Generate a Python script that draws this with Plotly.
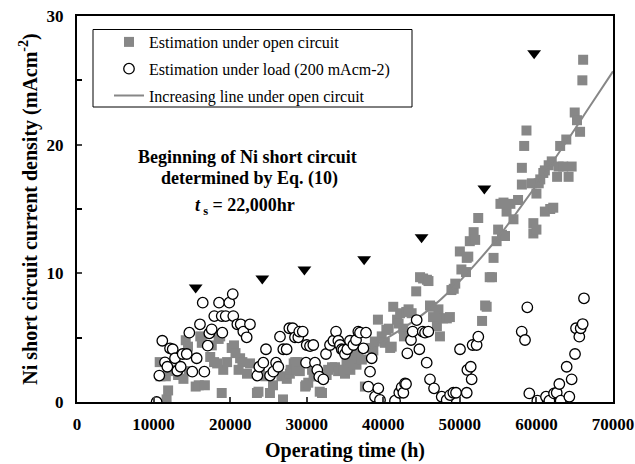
import plotly.graph_objects as go

# Estimation under open circuit (gray squares)
open_x = [10800, 10900, 11600, 11700, 11900, 12400, 12800, 13200, 13900, 14200, 14500, 14600,
          15500, 15900, 16100, 16300, 16700, 17400, 17600, 17900, 18300, 18500, 18700, 18900,
          19100, 19600, 20200, 20500, 20700, 21100, 21300, 21600, 22200, 22600, 23500, 23700,
          23900, 24600, 25200, 25600, 26700, 26900, 27400, 27800, 27900, 28300, 28500, 28700,
          28800, 29100, 29800, 29900, 30200, 30700, 30900, 31300, 31700, 32000, 32600, 32800,
          33300, 33700, 34100, 34600, 34800, 35000, 35200, 35700, 36100, 36300, 36500, 36700,
          37200, 37600, 38300, 38700, 38900, 39300, 39800, 40200, 40400, 40700, 40900, 41100,
          41300, 41800, 42000, 42200, 42600, 42700, 43000, 43300, 43700, 44300, 44800, 45200,
          45700, 45900, 46100, 46300, 46500, 47000, 47200, 47400, 47800, 48300, 48700, 48900,
          49200, 49400, 50000, 50200, 50800, 50900, 51100, 51300, 51800, 52000, 52400, 52900,
          53300, 53500, 53900, 54200, 54400, 54800, 55000, 55300, 55500, 55700, 55900, 56100,
          56600, 57000, 57600, 58100, 58100, 58400, 58700, 59400, 59600, 59600, 60000, 60000,
          60300, 60500, 60900, 61100, 61100, 61600, 61800, 62000, 62200, 62700, 62900, 63100,
          63500, 63900, 64200, 64600, 65000, 65300, 65700, 66000, 66100]
open_y = [3.1, 2.0, 2.0, 0.2, 0.9, 2.4, 2.5, 2.1, 1.8, 4.8, 4.3, 2.4,
          1.2, 1.3, 5.1, 4.6, 1.3, 3.5, 4.4, 3.1, 3.0, 4.9, 5.1, 0.7,
          2.5, 3.1, 4.2, 4.4, 3.8, 2.5, 3.4, 3.1, 2.2, 3.0, 0.7, 0.8,
          2.5, 2.0, 0.7, 1.3, 2.0, 0.2, 1.8, 2.2, 2.5, 3.0, 3.1, 2.5,
          3.1, 2.4, 1.2, 1.3, 1.5, 2.5, 2.0, 2.0, 0.8, 0.7, 2.1, 2.5,
          2.7, 2.7, 2.4, 2.5, 2.5, 2.2, 3.1, 2.5, 3.1, 3.7, 2.9, 3.4,
          3.3, 1.2, 4.2, 4.0, 4.7, 6.4, 5.1, 4.6, 5.6, 5.7, 4.2, 4.3,
          7.4, 6.4, 6.1, 6.9, 5.7, 5.1, 7.0, 7.2, 6.9, 8.6, 9.7, 9.6,
          9.5, 9.4, 7.5, 7.4, 6.6, 5.9, 7.2, 5.1, 6.5, 6.5, 6.6, 8.7,
          8.8, 9.2, 11.7, 10.3, 10.1, 11.2, 11.3, 12.5, 13.2, 12.6, 14.3, 6.3,
          7.5, 7.4, 9.7, 9.7, 11.2, 12.5, 13.4, 15.4, 13.0, 15.5, 12.9, 14.8,
          15.4, 14.2, 15.7, 16.9, 18.2, 19.9, 21.1, 17.0, 13.1, 13.9, 16.2, 13.4,
          17.0, 17.3, 17.8, 18.0, 14.8, 18.4, 15.0, 18.7, 15.1, 17.5, 18.3, 19.9,
          18.3, 20.4, 17.5, 18.3, 22.5, 21.9, 21.0, 25.0, 26.6]

# Estimation under load (open circles)
load_x = [10400, 10750, 11140, 11490, 11800, 12150, 12500, 12800, 13100, 13540, 13800, 14330,
          14670, 15060, 15630, 16060, 16420, 16630, 17070, 17280, 17590, 17930, 18550, 18900,
          18980, 19420, 19890, 20340, 20410, 20940, 21380, 21720, 22160, 22590, 23550, 23810,
          24330, 24680, 25210, 25640, 26000, 26290, 26510, 26940, 27380, 27730, 28170, 28470,
          28900, 29030, 29480, 29910, 30000, 30430, 30860, 31080, 31380, 31640, 32170, 32520,
          33040, 33480, 33830, 34130, 34350, 34570, 34780, 35000, 35300, 35650, 36090, 36440,
          36740, 36960, 37400, 37740, 38050, 38270, 38490, 38920, 39350, 39570, 41530, 42090,
          42400, 42620, 42840, 42970, 43140, 43620, 43840, 44360, 44710, 45150, 45450, 45670,
          45880, 46100, 46630, 47630, 48280, 48720, 49150, 49500, 50020, 50900, 50980, 51420,
          51540, 51670, 52190, 52410, 58080, 58510, 58810, 59070, 60120, 61250, 61690, 62300,
          62650, 62990, 63170, 63950, 64300, 64600, 65040, 65170, 65600, 65780, 66040, 66210]
load_y = [0.0, 2.05, 4.76, 3.08, 2.74, 4.17, 4.1, 3.4, 2.43, 2.74, 3.73, 3.73,
          5.39, 2.36, 3.4, 6.04, 7.72, 2.36, 4.38, 5.34, 5.65, 6.68, 7.72, 6.68,
          5.39, 6.68, 7.72, 8.39, 6.68, 6.04, 6.04, 5.47, 5.03, 6.04, 2.05, 2.74,
          3.06, 4.1, 2.05, 2.36, 3.06, 2.74, 5.08, 4.1, 4.1, 5.73, 5.73, 5.03,
          5.03, 5.47, 5.47, 3.06, 4.43, 4.35, 4.43, 3.06, 2.49, 1.97, 1.76, 3.73,
          4.43, 4.76, 5.47, 4.76, 4.43, 4.1, 4.04, 3.73, 4.1, 4.76, 4.43, 4.82,
          5.47, 5.39, 4.17, 5.39, 1.19, 2.36, 3.4, 0.41, 1.06, 0.16, 0.1, 0.72,
          1.14, 0.72, 1.45, 1.4, 3.78, 4.82, 5.47, 6.37, 4.1, 5.47, 5.39, 3.06,
          5.47, 1.76, 1.06, 0.41, 0.16, 0.54, 0.72, 0.72, 4.1, 0.72, 2.49, 2.74,
          1.76, 4.43, 4.43, 5.08, 5.47, 4.82, 7.36, 0.67, 0.1, 0.41, 0.1, 0.67,
          0.72, 1.4, 0.1, 2.74, 0.41, 1.76, 3.73, 5.73, 5.08, 5.73, 6.06, 8.06]

# Increasing line under open circuit
line_x = [37500, 40000, 43000, 46000, 49000, 52000, 55000, 58000, 61000, 64000, 67000, 70000]
line_y = [3.9, 4.8, 5.9, 7.2, 8.8, 10.7, 12.8, 15.2, 17.7, 20.3, 23.0, 25.7]

# Triangle markers
tri_x = [15500, 24200, 29700, 37500, 45000, 53200, 59700]
tri_y = [8.9, 9.6, 10.3, 11.1, 12.8, 16.6, 27.1]

x_ticks = [0, 10000, 20000, 30000, 40000, 50000, 60000, 70000]
x_ticktext = ["0", "10000", "20000", "30000", "40000", "50000", "60000", "70000"]
y_ticks = [0, 10, 20, 30]
y_minor_ticks = [5, 15, 25]

SERIF = "Liberation Serif, Times New Roman, serif"
GRAY = "#878787"

fig = go.Figure()
fig.add_trace(go.Scatter(
    x=open_x, y=open_y, mode="markers", name="Estimation under open circuit",
    marker=dict(symbol="square", size=10, color=GRAY, line=dict(width=0)),
    legendrank=1, legendgroup="a"))
fig.add_trace(go.Scatter(
    x=line_x, y=line_y, mode="lines", name="Increasing line under open circuit",
    line=dict(color=GRAY, width=2, shape="spline"), legendrank=3, legendgroup="c"))
fig.add_trace(go.Scatter(
    x=load_x, y=load_y, mode="markers", name="Estimation under load (200 mAcm-2)",
    marker=dict(symbol="circle", size=10.5, color="white", line=dict(color="black", width=1.3)),
    legendrank=2, legendgroup="b"))
fig.add_trace(go.Scatter(
    x=tri_x, y=tri_y, mode="markers", showlegend=False,
    marker=dict(symbol="triangle-down", size=12, color="black")))

L, R, T, B = 77, 22, 16, 62
W, H = 635, 464
pw, ph = W - L - R, H - T - B

def px(xp):
    return (xp - L) / pw

def py(yp):
    return (H - B - yp) / ph

fig.update_layout(
    width=W, height=H,
    margin=dict(l=L, r=R, t=T, b=B, autoexpand=False),
    paper_bgcolor="white", plot_bgcolor="white",
    font=dict(family=SERIF, color="black"),
    showlegend=True,
    legend=dict(x=px(109), y=py(25), xanchor="left", yanchor="top",
                font=dict(family=SERIF, size=16, color="black"),
                bgcolor="rgba(0,0,0,0)", borderwidth=0, tracegroupgap=3),
    xaxis=dict(range=[0, 70000], tickvals=x_ticks, ticktext=x_ticktext, automargin=False,
               ticks="inside", ticklen=5, ticklabelstandoff=6,
               tickwidth=1.5, showline=True, linewidth=2, linecolor="black", mirror=True,
               showgrid=False, zeroline=False,
               tickfont=dict(family=SERIF, size=17, weight="bold"),
               title=dict(text="Operating time (h)",
                          font=dict(family=SERIF, size=20, weight="bold"), standoff=10)),
    yaxis=dict(range=[0, 30], tickvals=y_ticks, automargin=False,
               ticks="inside", ticklen=5, ticklabelstandoff=8,
               tickwidth=1.5, showline=True, linewidth=2, linecolor="black",
               mirror=True, showgrid=False, zeroline=False,
               minor=dict(tickvals=y_minor_ticks, ticks="inside", ticklen=5, tickwidth=1.5,
                          tickcolor="black", showgrid=False),
               tickfont=dict(family=SERIF, size=17, weight="bold"),
               title=dict(text="Ni short circuit current density (mAcm<sup>-2</sup>)",
                          font=dict(family=SERIF, size=20, weight="bold"), standoff=4)),
    shapes=[dict(type="rect", xref="paper", yref="paper",
                 x0=px(93), x1=px(412), y0=py(107), y1=py(29.5),
                 line=dict(color="black", width=1), fillcolor="white", layer="below")],
    annotations=[
        dict(text="<b>Beginning of Ni short circuit</b>", x=px(247), y=py(157),
             xref="paper", yref="paper", showarrow=False, xanchor="center", yanchor="middle",
             font=dict(family=SERIF, size=18, color="black")),
        dict(text="<b>determined by Eq. (10)</b>", x=px(249), y=py(178),
             xref="paper", yref="paper", showarrow=False, xanchor="center", yanchor="middle",
             font=dict(family=SERIF, size=18, color="black")),
        dict(text="<b><i>t</i><sub> s</sub> = 22,000hr</b>", x=px(245), y=py(206),
             xref="paper", yref="paper", showarrow=False, xanchor="center", yanchor="middle",
             font=dict(family=SERIF, size=18, color="black")),
    ],
)

fig.write_html("out.html")
